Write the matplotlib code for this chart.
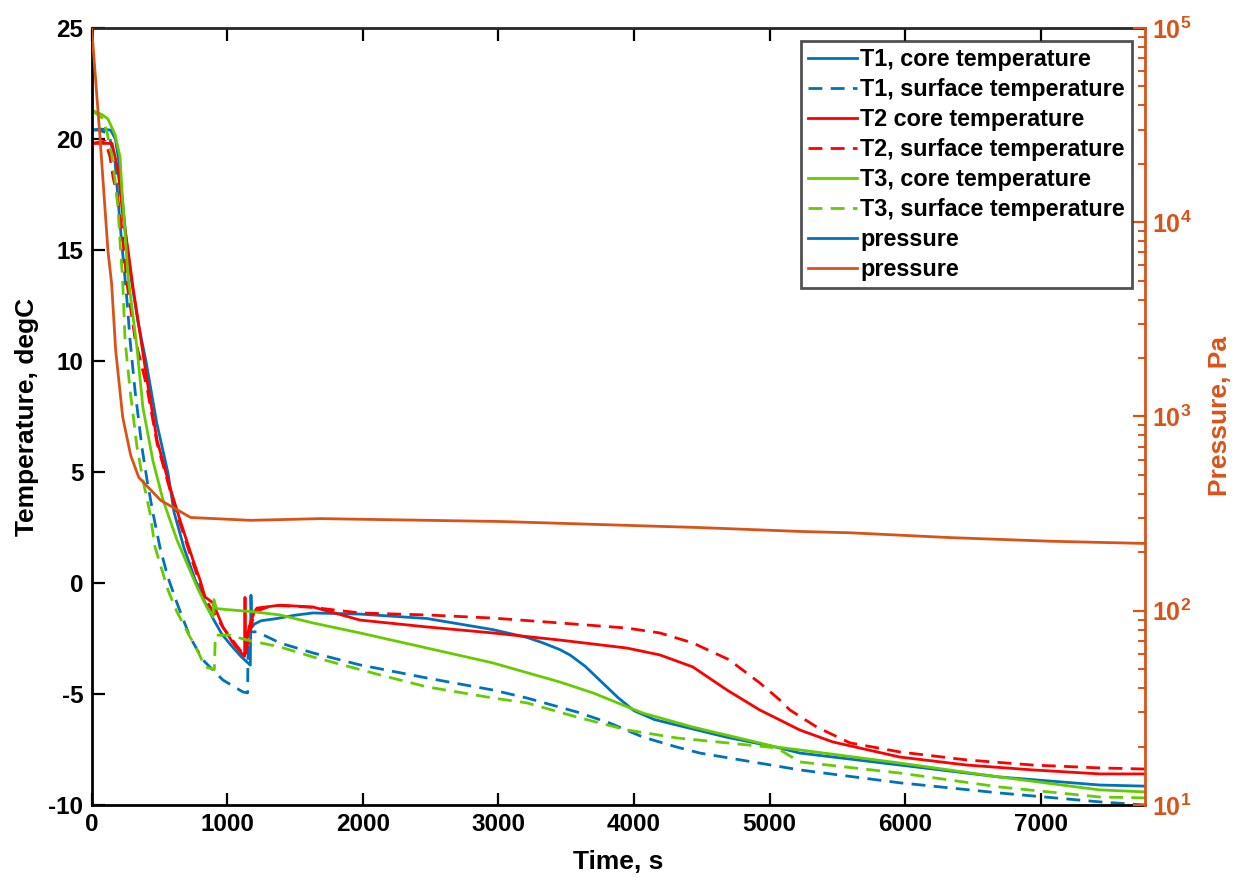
import numpy as np
import matplotlib
matplotlib.use("Agg")
import matplotlib.pyplot as plt
from matplotlib.ticker import FixedLocator, FuncFormatter, NullFormatter

plt.rcParams['font.family'] = ['Liberation Sans', 'DejaVu Sans']
plt.rcParams['font.weight'] = 'bold'
plt.rcParams['axes.unicode_minus'] = False
plt.rcParams['mathtext.fontset'] = 'custom'
plt.rcParams['mathtext.rm'] = 'Liberation Sans:bold'
plt.rcParams['mathtext.bf'] = 'Liberation Sans:bold'

BLUE = '#0072BD'
RED = '#FF0000'
GREEN = '#66CC00'
ORANGE = '#D95319'

# T1 core temperature
t1c_t = [0, 60, 140, 175, 200, 230, 260, 294, 340, 400, 480, 563, 607, 680, 760, 830,
         895, 960, 1020, 1100, 1170, 1175, 1180, 1200, 1250, 1367, 1500, 1632, 1979,
         2473, 2959, 3210, 3330, 3453, 3530, 3640, 3760, 3880, 4000, 4150, 4316, 4686,
         5054, 5223, 5961, 6699, 7436, 7770]
t1c_v = [20.4, 20.45, 20.4, 20.0, 19.0, 17.0, 15.2, 13.6, 11.8, 10.0, 7.2, 4.95, 3.2, 1.6,
         0.2, -0.8, -1.6, -2.3, -2.75, -3.3, -3.7, -0.55, -2.0, -1.85, -1.7, -1.6, -1.45,
         -1.35, -1.4, -1.6, -2.1, -2.45, -2.7, -3.0, -3.25, -3.75, -4.45, -5.15, -5.75,
         -6.15, -6.4, -6.95, -7.4, -7.66, -8.2, -8.74, -9.1, -9.15]

# T1 surface temperature
t1s_t = [0, 50, 100, 135, 172, 209, 231, 260, 283, 319, 371, 408, 452, 504, 560, 629,
         725, 821, 968, 1116, 1150, 1155, 1219, 1389, 1632, 1979, 2473, 2959, 3210, 3579,
         3822, 4066, 4316, 4486, 5223, 5961, 6699, 7436, 7770]
t1s_v = [20.4, 20.4, 20.3, 20.0, 19.0, 16.2, 14.7, 12.75, 10.95, 8.7, 6.1, 4.65, 3.15,
         1.6, 0.3, -0.9, -2.43, -3.47, -4.37, -4.91, -4.95, -2.2, -2.2, -2.7, -3.15, -3.69,
         -4.28, -4.82, -5.18, -5.81, -6.31, -6.94, -7.39, -7.66, -8.42, -9.0, -9.46,
         -9.86, -10.0]

# T2 core temperature
t2c_t = [0, 150, 194, 231, 268, 305, 334, 408, 482, 577, 651, 747, 799, 836, 895, 968,
         1042, 1116, 1128, 1131, 1134, 1160, 1200, 1219, 1389, 1632, 1979, 2473, 2959,
         3453, 3948, 4191, 4434, 4686, 4928, 5076, 5223, 5467, 5961, 6455, 6942, 7436, 7770]
t2c_v = [19.8, 19.8, 18.6, 16.5, 15.0, 13.3, 12.16, 9.14, 6.44, 4.32, 2.84, 1.04, 0.14,
         -0.63, -0.9, -1.98, -2.7, -3.24, -3.3, -0.65, -3.0, -2.0, -1.3, -1.13, -1.0,
         -1.08, -1.67, -1.98, -2.25, -2.57, -2.93, -3.24, -3.78, -4.82, -5.72, -6.17,
         -6.62, -7.16, -7.84, -8.2, -8.42, -8.6, -8.6]

# T2 surface temperature
t2s_t = [0, 100, 135, 157, 194, 223, 260, 320, 408, 482, 577, 651, 747, 836, 968, 1116,
         1131, 1200, 1338, 1632, 1979, 2473, 2959, 3453, 3948, 4191, 4434, 4700, 4928,
         5076, 5150, 5349, 5592, 5961, 6455, 6942, 7436, 7770]
t2s_v = [19.8, 19.9, 19.2, 18.3, 17.25, 15.9, 13.5, 11.0, 8.8, 6.3, 4.2, 2.7, 0.9, -0.7,
         -2.0, -3.2, -3.3, -1.3, -1.0, -1.1, -1.35, -1.44, -1.58, -1.8, -2.03, -2.25,
         -2.7, -3.45, -4.5, -5.27, -5.72, -6.49, -7.2, -7.61, -7.97, -8.2, -8.33, -8.38]

# T3 core temperature
t3c_t = [0, 76, 120, 172, 209, 223, 246, 268, 334, 378, 452, 526, 629, 777, 850, 895,
         902, 920, 1000, 1200, 1389, 1632, 1979, 2473, 2959, 3453, 3697, 4066, 4434,
         5054, 5223, 5961, 6699, 7436, 7770]
t3c_v = [21.3, 21.1, 20.9, 20.2, 19.2, 17.7, 15.8, 13.8, 10.6, 7.9, 5.5, 3.74, 1.94,
         -0.18, -1.1, -1.53, -0.75, -1.15, -1.2, -1.3, -1.44, -1.8, -2.25, -2.93, -3.6,
         -4.46, -4.95, -5.86, -6.49, -7.39, -7.52, -8.11, -8.74, -9.32, -9.41]

# T3 surface temperature
t3s_t = [0, 76, 113, 150, 172, 194, 212, 228, 246, 283, 334, 378, 430, 467, 563, 629,
         725, 777, 836, 905, 912, 1020, 1146, 1389, 1632, 2126, 2473, 2959, 3210, 3579,
         3948, 4316, 4685, 5054, 5223, 5961, 6699, 7436, 7770]
t3s_v = [21.3, 20.95, 20.3, 19.2, 18.15, 16.9, 15.1, 13.7, 10.95, 8.7, 6.13, 4.64, 3.15,
         1.62, -0.32, -1.3, -2.43, -3.0, -3.78, -3.9, -2.35, -2.35, -2.57, -2.88, -3.33,
         -4.14, -4.68, -5.18, -5.4, -6.04, -6.62, -6.98, -7.2, -7.43, -8.06, -8.56,
         -9.19, -9.64, -9.68]

# chamber pressure, Pa
p_t = [0, 61, 120, 147, 177, 229, 288, 347, 509, 730, 1173, 1690, 3016, 4486, 5223,
       5592, 6330, 7068, 7770]
p_v = [100000, 27500, 7130, 4830, 2190, 990, 630, 486, 370, 302, 292, 298, 288, 268,
       256, 252, 238, 228, 222]

fig = plt.figure(figsize=(12.34, 8.77), dpi=100)
ax = fig.add_axes([0.0743, 0.0821, 0.8536, 0.886])
ax2 = ax.twinx()

lw = 2.0
dash = (0, (5, 3))
h1, = ax.plot(t1c_t, t1c_v, color=BLUE, lw=lw, label='T1, core temperature')
h2, = ax.plot(t1s_t, t1s_v, color=BLUE, lw=lw, ls=dash, label='T1, surface temperature')
h3, = ax.plot(t2c_t, t2c_v, color=RED, lw=lw, label='T2 core temperature')
h4, = ax.plot(t2s_t, t2s_v, color=RED, lw=lw, ls=dash, label='T2, surface temperature')
h5, = ax.plot(t3c_t, t3c_v, color=GREEN, lw=lw, label='T3, core temperature')
h6, = ax.plot(t3s_t, t3s_v, color=GREEN, lw=lw, ls=dash, label='T3, surface temperature')
h7, = ax2.plot([], [], color=BLUE, lw=lw, label='pressure')
h8, = ax2.plot(p_t, p_v, color=ORANGE, lw=lw, label='pressure')

ax.set_xlim(0, 7770)
ax.set_ylim(-10, 25)
ax.set_xticks(np.arange(0, 7001, 1000))
ax.set_yticks(np.arange(-10, 26, 5))
ax.tick_params(axis='both', direction='in', length=9, width=1.6, labelsize=17.5,
               top=True, right=False, pad=6)
for lab in ax.get_xticklabels() + ax.get_yticklabels():
    lab.set_fontweight('bold')
ax.set_xlabel('Time, s', fontsize=19, fontweight='bold', labelpad=10)
ax.set_ylabel('Temperature, degC', fontsize=19, fontweight='bold', labelpad=7)

ax2.set_yscale('log')
ax2.set_ylim(10, 1e5)
ax2.yaxis.set_major_locator(FixedLocator([10, 100, 1000, 1e4, 1e5]))
ax2.yaxis.set_major_formatter(FuncFormatter(
    lambda v, p: r'$\mathbf{10^{%d}}$' % int(round(np.log10(v)))))
minors = [m * 10.0 ** e for e in range(1, 5) for m in range(2, 10)]
ax2.yaxis.set_minor_locator(FixedLocator(minors))
ax2.yaxis.set_minor_formatter(NullFormatter())
ax2.tick_params(axis='y', which='major', direction='in', length=9, width=1.6,
                colors=ORANGE, labelsize=18, pad=5)
ax2.tick_params(axis='y', which='minor', direction='in', length=5, width=1.4, colors=ORANGE)
ax2.set_ylabel('Pressure, Pa', fontsize=19, fontweight='bold', color=ORANGE, labelpad=12)

for s in ['left', 'bottom', 'top']:
    ax.spines[s].set_linewidth(2.0)
    ax.spines[s].set_color('black')
ax.spines['top'].set_color('#262626')
for s in ['left', 'bottom', 'top']:
    ax2.spines[s].set_visible(False)
ax2.spines['right'].set_color(ORANGE)
ax2.spines['right'].set_linewidth(2.0)
ax.spines['right'].set_visible(False)

leg = ax2.legend(handles=[h1, h2, h3, h4, h5, h6, h7, h8], loc='upper right',
                 fontsize=16.8, frameon=True, fancybox=False, edgecolor='#262626',
                 handlelength=2.1, handletextpad=0.15, labelspacing=0.30,
                 borderaxespad=0.55, borderpad=0.3)
leg.get_frame().set_linewidth(2.0)
for txt in leg.get_texts():
    txt.set_fontweight('bold')

fig.savefig('out.png', dpi=100)
